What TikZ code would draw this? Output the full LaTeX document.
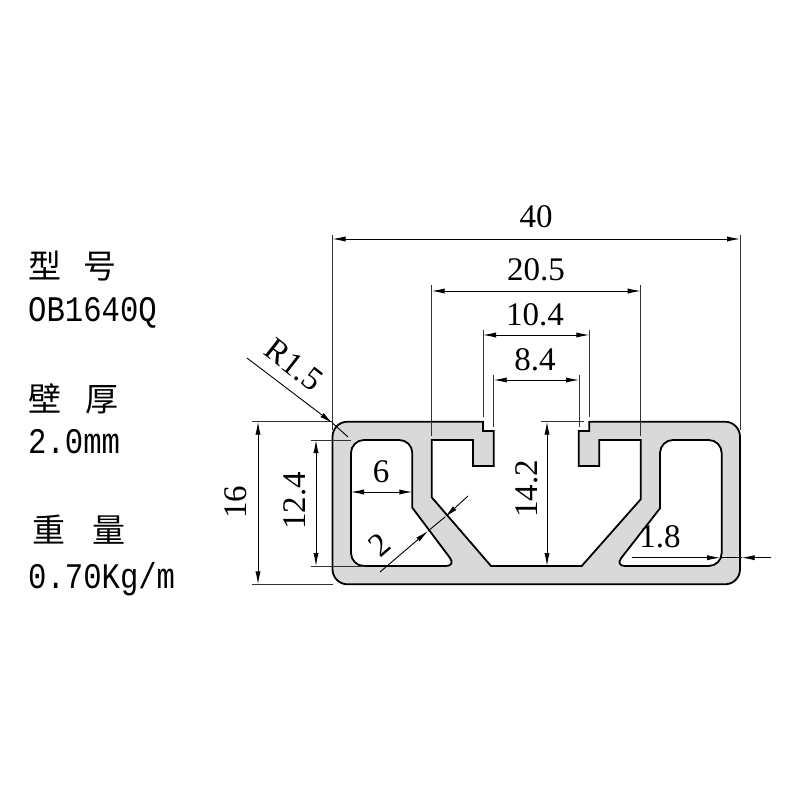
\documentclass[tikz,border=0pt]{standalone}
\usepackage{fontspec}
\setmainfont{Liberation Serif}
\newfontfamily\infofont{Liberation Mono}[FakeStretch=0.85]
\newfontfamily\cjk{Noto Sans CJK SC}
\usetikzlibrary{arrows.meta}

\begin{document}
\begin{tikzpicture}[x=1pt,y=-1pt,>={Latex[length=13pt,width=5.2pt]},
  section line/.style={draw=black,line width=1.8pt,fill=black!15,even odd rule},
  ext line/.style={draw=black!80,line width=0.9pt},
  dim line/.style={<->,draw=black,line width=0.9pt},
  lead line/.style={draw=black,line width=0.9pt},
  dim text/.style={font=\fontsize{33}{33}\selectfont,inner sep=0pt},
  info text/.style={font=\fontsize{36}{36}\selectfont\infofont,anchor=base west,inner sep=0pt},
  title text/.style={font=\fontsize{33}{33}\selectfont\cjk,anchor=base west,inner sep=0pt}]

  \useasboundingbox (0,0) rectangle (800,800);

  % left column
  \node[title text] (type a) at (28,278) {型};
  \node[title text] (type b) at (83,278) {号};
  \node[info text] (type v) at (28,321) {OB1640Q};
  \node[title text] (wall a) at (28,411) {壁};
  \node[title text] (wall b) at (85,411) {厚};
  \node[info text] (wall v) at (28,453) {2.0mm};
  \node[title text] (mass a) at (32,542) {重};
  \node[title text] (mass b) at (92,542) {量};
  \node[info text] (mass v) at (28,588) {0.70Kg/m};

  % profile with its two cavities
  \path[section line]
    [rounded corners=15pt] (332.5,455) -- (332.5,421.7) -- (400,421.7) [sharp corners]
    -- (483,421.7) -- (483,431) -- (493.7,431) -- (493.7,466) -- (473,466) -- (473,440)
    -- (431.7,440) -- (431.7,497.3) -- (491,566) -- (581.7,566) -- (640.7,499.3) -- (640.7,440)
    -- (599.3,440) -- (599.3,466) -- (578.7,466) -- (578.7,431) -- (589.3,431) -- (589.3,421.7)
    [rounded corners=15pt] -- (740,421.7) -- (740,584.3) -- (332.5,584.3) -- (332.5,455) [sharp corners] -- cycle
    (412.3,507.7) [rounded corners=10pt] -- (456,566) [rounded corners=13pt] -- (351,566) -- (351,440)
    -- (412.3,440) [sharp corners] -- cycle
    (660,508.3) [rounded corners=13pt] -- (660,440) -- (721.7,440) -- (721.7,566)
    [rounded corners=10pt] -- (615,566) [sharp corners] -- cycle;

  % extension lines
  \draw[ext line] (332.5,235) -- (332.5,430);
  \draw[ext line] (740,235) -- (740,430);
  \draw[ext line] (431.7,285) -- (431.7,436);
  \draw[ext line] (640.7,285) -- (640.7,436);
  \draw[ext line] (483,330) -- (483,417);
  \draw[ext line] (589.3,330) -- (589.3,417);
  \draw[ext line] (493.7,375) -- (493.7,427);
  \draw[ext line] (579,375) -- (579,427);
  \draw[ext line] (252,421.7) -- (332.5,421.7);
  \draw[ext line] (252,584.3) -- (332.5,584.3);
  \draw[ext line] (311,440) -- (351,440);
  \draw[ext line] (311,566) -- (365,566);
  \draw[ext line] (541,421.7) -- (584,421.7);

  % dimensions
  \draw[dim line] (332.5,239) -- (740,239);
  \draw[dim line] (431.7,291) -- (640.7,291);
  \draw[dim line] (483,335) -- (589.3,335);
  \draw[dim line] (493.7,380) -- (579,380);
  \draw[dim line] (258,421.7) -- (258,584.3);
  \draw[dim line] (316,440) -- (316,566);
  \draw[dim line] (547,421.7) -- (547,566);
  \draw[dim line] (351,492) -- (412.3,492);
  \draw[lead line,->] (380,572) -- (428,531);
  \draw[lead line,->] (468,496) -- (445,517);
  \draw[lead line] (428,531) -- (445,517);
  \draw[lead line,->] (632,557.7) -- (720,557.7);
  \draw[lead line,->] (771,557.7) -- (741.7,557.7);
  \draw[lead line] (720,557.7) -- (741.7,557.7);
  \draw[lead line,->] (247,358) -- (332.5,423);
  \draw[lead line] (332.5,423) -- (348,437);

  \node[dim text] (w total) at (536,217) {40};
  \node[dim text] (w slot) at (536,270) {20.5};
  \node[dim text] (w open) at (535,315) {10.4};
  \node[dim text] (w neck) at (535,360) {8.4};
  \node[dim text,rotate=90] (h total) at (236,502) {16};
  \node[dim text,rotate=90] (h cavity) at (295,501) {12.4};
  \node[dim text,rotate=90] (h slot) at (527,489) {14.2};
  \node[dim text] (w cavity) at (381,472) {6};
  \node[dim text,rotate=41] (t web) at (380,545) {2};
  \node[dim text] (t wall) at (660,537) {1.8};
  \node[dim text,rotate=-38] (r corner) at (294,365) {R1.5};
\end{tikzpicture}
\end{document}
